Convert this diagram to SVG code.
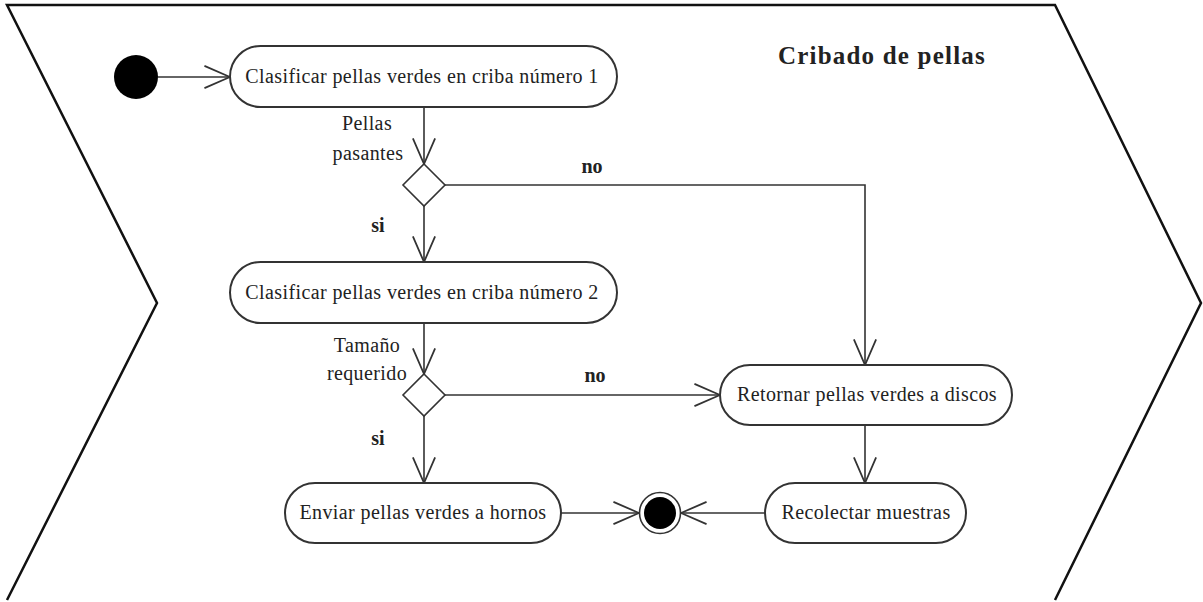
<svg xmlns="http://www.w3.org/2000/svg" width="1203" height="602" viewBox="0 0 1203 602">
<defs>
<style>
.frame{fill:none;stroke:#111;stroke-width:2.5;stroke-linejoin:miter}
.node{fill:#fff;stroke:#333;stroke-width:2}
.dia{fill:#fff;stroke:#333;stroke-width:1.6}
.conn{fill:none;stroke:#333;stroke-width:1.6}
.t{font-family:"Liberation Serif",serif;font-size:20px;fill:#222;text-anchor:middle;letter-spacing:0.4px}
.b{font-family:"Liberation Serif",serif;font-size:20px;font-weight:bold;fill:#222;text-anchor:middle}
.title{font-family:"Liberation Serif",serif;font-size:25px;font-weight:bold;fill:#222;letter-spacing:1.2px}
</style>
<marker id="arr" markerUnits="userSpaceOnUse" markerWidth="30" markerHeight="30" viewBox="-25 -12 27 24" refX="0" refY="0" orient="auto">
<path d="M-23,-10 L0,0 L-23,10" fill="none" stroke="#333" stroke-width="1.6"/>
</marker>
</defs>
<rect width="1203" height="602" fill="#fff"/>
<path class="frame" d="M7,600 L157,303 L7,5 L1055,5 L1201,303 L1055,600"/>
<text class="title" x="778" y="64">Cribado de pellas</text>
<g id="connectors">
<path class="conn" d="M158,77 L230,77" marker-end="url(#arr)"/>
<path class="conn" d="M424,107 L424,164" marker-end="url(#arr)"/>
<path class="conn" d="M424,206 L424,262" marker-end="url(#arr)"/>
<path class="conn" d="M445,185 L865,185 L865,365" marker-end="url(#arr)"/>
<path class="conn" d="M424,323 L424,374" marker-end="url(#arr)"/>
<path class="conn" d="M445,395 L720,395" marker-end="url(#arr)"/>
<path class="conn" d="M424,416 L424,483" marker-end="url(#arr)"/>
<path class="conn" d="M865,425 L865,483" marker-end="url(#arr)"/>
<path class="conn" d="M561,513 L639,513" marker-end="url(#arr)"/>
<path class="conn" d="M765,513 L681,513" marker-end="url(#arr)"/>
<text class="t" x="367" y="130">Pellas</text>
<text class="t" x="368" y="160">pasantes</text>
<text class="b" x="592" y="173">no</text>
<text class="b" x="378" y="232">si</text>
<text class="t" x="367" y="352">Tamaño</text>
<text class="t" x="367" y="380">requerido</text>
<text class="b" x="595" y="382">no</text>
<text class="b" x="378" y="445">si</text>
</g>
<g id="start"><circle cx="136" cy="77" r="22" fill="#000"/></g>
<g id="n1"><rect class="node" x="230" y="46" width="387" height="61" rx="30.5"/><text class="t" x="422" y="83">Clasificar pellas verdes en criba número 1</text></g>
<g id="d1"><path class="dia" d="M424,164 L445,185 L424,206 L403,185 Z"/></g>
<g id="n2"><rect class="node" x="230" y="262" width="387" height="61" rx="30.5"/><text class="t" x="422" y="299">Clasificar pellas verdes en criba número 2</text></g>
<g id="d2"><path class="dia" d="M424,374 L445,395 L424,416 L403,395 Z"/></g>
<g id="retornar"><rect class="node" x="720" y="365" width="292" height="60" rx="30"/><text class="t" x="867" y="401">Retornar pellas verdes a discos</text></g>
<g id="enviar"><rect class="node" x="285" y="483" width="276" height="60" rx="30"/><text class="t" x="423" y="519">Enviar pellas verdes a hornos</text></g>
<g id="recolectar"><rect class="node" x="765" y="483" width="201" height="60" rx="30"/><text class="t" x="866" y="519">Recolectar muestras</text></g>
<g id="end"><circle cx="660" cy="513" r="20.5" fill="#fff" stroke="#333" stroke-width="1.6"/><circle cx="660" cy="513" r="16" fill="#000"/></g>
</svg>
